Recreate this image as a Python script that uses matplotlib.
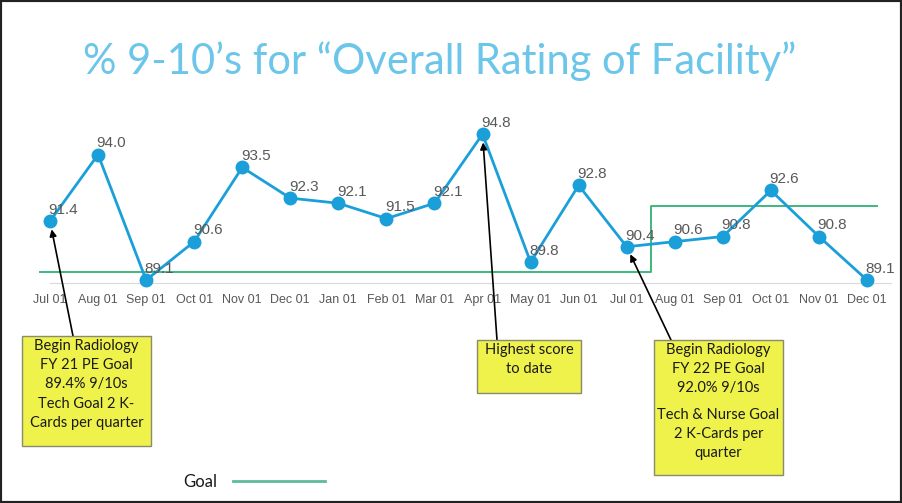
import matplotlib
matplotlib.use("Agg")
import matplotlib.pyplot as plt
from matplotlib.patches import Rectangle
from matplotlib.lines import Line2D
import numpy as np

# data
months = ["Jul 01", "Aug 01", "Sep 01", "Oct 01", "Nov 01", "Dec 01", "Jan 01", "Feb 01", "Mar 01",
          "Apr 01", "May 01", "Jun 01", "Jul 01", "Aug 01", "Sep 01", "Oct 01", "Nov 01", "Dec 01"]
scores = [91.4, 94.0, 89.1, 90.6, 93.5, 92.3, 92.1, 91.5, 92.1,
          94.8, 89.8, 92.8, 90.4, 90.6, 90.8, 92.6, 90.8, 89.1]
goal = [89.4, 89.4, 89.4, 89.4, 89.4, 89.4, 89.4, 89.4, 89.4,
        89.4, 89.4, 89.4, 89.4, 92.0, 92.0, 92.0, 92.0, 92.0]

notes = [
    (0, "Begin Radiology\nFY 21 PE Goal\n89.4% 9/10s\nTech Goal 2 K-\nCards per quarter"),
    (9, "Highest score\nto date"),
    (12, "Begin Radiology\nFY 22 PE Goal\n92.0% 9/10s"),
]
note3_extra = "Tech & Nurse Goal\n2 K-Cards per\nquarter"

W, H = 902, 503
fig = plt.figure(figsize=(W / 100, H / 100), dpi=100)

def px(x, y):
    # pixel coords from top-left -> figure fraction
    return x / W, 1 - y / H

# axes placed so month index 0 -> 50px, 17 -> 867px
step = (867 - 50) / 17
ax_left = 50 - 0.5 * step
ax_right = 867 + 0.5 * step
ybot, ytop = 282.6, 282.6 - 6 * 25.6
ax = fig.add_axes([ax_left / W, 1 - ybot / H, (ax_right - ax_left) / W, (ybot - ytop) / H])
ax.set_xlim(-0.5, 17.5)
ax.set_ylim(89.0, 95.0)

idx = np.arange(len(scores))
blue = "#1A9FD9"
green = "#3DB87E"

gx = np.concatenate([[-0.2], idx, [17.2]])
gy = np.concatenate([[goal[0]], goal, [goal[-1]]])
ax.plot(gx, gy, drawstyle="steps-mid", color=green, lw=1.4, zorder=2)

ax.plot(idx, scores, color=blue, lw=2.0, marker="o", markersize=9, zorder=3, clip_on=False)
for i, v in zip(idx, scores):
    ax.annotate(f"{v:.1f}", (i, v), xytext=(-1, 3), textcoords="offset points",
                ha="left", va="bottom", fontsize=11, color="#595959",
                family="Liberation Sans", zorder=4)

for s in ["top", "right", "left"]:
    ax.spines[s].set_visible(False)
ax.spines["bottom"].set_color("#D9D9D9")
ax.spines["bottom"].set_bounds(0, 17.5)
ax.set_yticks([])
ax.set_xticks(idx)
ax.set_xticklabels(months, fontsize=9, color="#595959", family="Liberation Sans")
ax.tick_params(axis="x", length=0, pad=8)
ax.patch.set_alpha(0)

# title
fig.text(*px(440, 61), "% 9-10\u2019s for \u201cOverall Rating of Facility\u201d",
         ha="center", va="center", fontsize=30, color="#6CC6EA", family="Lato")

# note boxes
boxes = [(22, 336, 151, 446), (477, 340, 581, 393), (654, 340, 783, 475)]
arrow_from = [(73, 336), (497, 340), (671, 340)]
for (i, txt), (x0, y0, x1, y1), (ax0, ay0) in zip(notes, boxes, arrow_from):
    fig.add_artist(Rectangle(px(x0, y1), (x1 - x0) / W, (y1 - y0) / H, transform=fig.transFigure,
                             facecolor="#EEF24A", edgecolor="#8A8A70", lw=1.0))
    ax.annotate("", xy=(i, scores[i]), xycoords="data",
                xytext=(ax0, H - ay0), textcoords="figure pixels",
                arrowprops=dict(arrowstyle="-|>", color="black", lw=1.2,
                                shrinkA=0, shrinkB=6, mutation_scale=10))
    fig.text(*px((x0 + x1) / 2, y0 + 3), txt, ha="center", va="top", fontsize=10.5,
             color="#1A1A1A", family="Lato", linespacing=1.47)

fig.text(*px(718.5, 408), note3_extra, ha="center", va="top", fontsize=10.5,
         color="#1A1A1A", family="Lato", linespacing=1.47)

# legend
fig.text(*px(200, 482), "Goal", ha="center", va="center", fontsize=12, color="#1A1A1A", family="Lato")
fig.add_artist(Line2D([233 / W, 325 / W], [1 - 481 / H, 1 - 481 / H], transform=fig.transFigure,
                      color="#5DBB9A", lw=2))

# frame
fig.add_artist(Rectangle((0, 0), 1, 1, transform=fig.transFigure, fill=False,
                         edgecolor="#222222", lw=3))

fig.savefig("out.png", dpi=100, facecolor="white")
